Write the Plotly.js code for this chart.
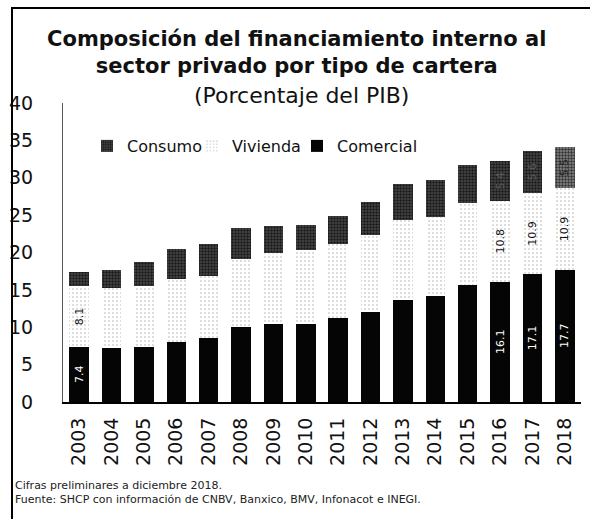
<!DOCTYPE html>
<html>
<head>
<meta charset="utf-8">
<script src="https://cdn.plot.ly/plotly-3.0.1.min.js"></script>
<style>
html,body{margin:0;padding:0;background:#fff;}
#chart{width:590px;height:519px;}
</style>
</head>
<body>
<div id="chart"></div>
<script>
var years = ['2003','2004','2005','2006','2007','2008','2009','2010','2011','2012','2013','2014','2015','2016','2017','2018'];
var comercial = [7.4, 7.2, 7.4, 8.0, 8.5, 10.0, 10.4, 10.5, 11.3, 12.0, 13.7, 14.2, 15.6, 16.1, 17.1, 17.7];
var vivienda  = [8.1, 8.0, 8.1, 8.5, 8.4, 9.1, 9.5, 9.8, 9.9, 10.3, 10.7, 10.6, 11.0, 10.8, 10.9, 10.9];
var consumo   = [1.9, 2.4, 3.2, 4.0, 4.3, 4.2, 3.6, 3.4, 3.7, 4.4, 4.7, 4.9, 5.1, 5.4, 5.6, 5.5];
var labelsComercial = ['7.4','','','','','','','','','','','','','16.1','17.1','17.7'];
var labelsVivienda  = ['8.1','','','','','','','','','','','','','10.8','10.9','10.9'];
var labelsConsumo   = ['','','','','','','','','','','','','','5.4','5.6','5.5'];

var W = 590, H = 519;
var L = 63, R = 9, T = 103, B = 117;
var pw = W - L - R, ph = H - T - B;
function px2x(p){ return (p - L) / pw; }
function py2y(p){ return (H - B - p) / ph; }

var font = 'DejaVu Sans, Noto Sans, sans-serif';

var consumoBg = years.map(function(y){ return y === '2018' ? '#8a8a8a' : '#4a4a4a'; });
var consumoFg = years.map(function(y){ return y === '2018' ? '#333' : '#1a1a1a'; });
var consumoTxt = years.map(function(y){ return y === '2018' ? '#222' : '#5a5a5a'; });

var traces = [
  {
    type: 'bar', name: 'Comercial', x: years, y: comercial, legend: 'legend3',
    marker: {color: '#050505', line: {width: 0}},
    text: labelsComercial, textposition: 'inside', insidetextanchor: 'middle',
    textangle: -90, textfont: {color: '#ffffff', size: 11, family: font},
    hoverinfo: 'x+y'
  },
  {
    type: 'bar', name: 'Vivienda', x: years, y: vivienda, legend: 'legend2',
    marker: {color: '#ffffff', line: {width: 0},
      pattern: {shape: '.', fgcolor: '#d2d2d2', bgcolor: '#ffffff', size: 4, solidity: 0.2}},
    text: labelsVivienda, textposition: 'inside', insidetextanchor: 'middle',
    textangle: -90, textfont: {color: '#111111', size: 11, family: font},
    hoverinfo: 'x+y'
  },
  {
    type: 'bar', name: 'Consumo', x: years, y: consumo, legend: 'legend',
    marker: {color: '#4a4a4a', line: {width: 0},
      pattern: {shape: '.', fgcolor: consumoFg, bgcolor: consumoBg, size: 3, solidity: 0.5}},
    text: labelsConsumo, textposition: 'inside', insidetextanchor: 'middle',
    textangle: -90, textfont: {color: consumoTxt, size: 11, family: font},
    hoverinfo: 'x+y'
  }
];

function legendAt(px){
  return {
    orientation: 'h', x: px2x(px), xanchor: 'left', y: py2y(146), yanchor: 'middle',
    font: {family: font, size: 16, color: '#111'}, bgcolor: 'rgba(0,0,0,0)', borderwidth: 0
  };
}

var layout = {
  width: W, height: H,
  margin: {l: L, r: R, t: T, b: B, pad: 0},
  paper_bgcolor: '#ffffff', plot_bgcolor: '#ffffff',
  font: {family: font, color: '#111'},
  barmode: 'stack',
  bargap: 0.4,
  showlegend: true,
  title: {
    text: '<b>Composición del financiamiento interno al</b><br><b>sector privado por tipo de cartera</b>',
    font: {family: font, size: 21, color: '#111'},
    x: 0.503, xref: 'container', xanchor: 'center',
    y: 1 - 46 / H, yref: 'container', yanchor: 'top'
  },
  legend: legendAt(87),
  legend2: legendAt(192),
  legend3: legendAt(297),
  xaxis: {
    type: 'category', tickangle: -90, showline: true, linecolor: '#000', linewidth: 2,
    ticks: '', showgrid: false, zeroline: false,
    tickfont: {family: font, size: 19, color: '#111'}, ticklabelstandoff: 6
  },
  yaxis: {
    range: [0, 40], dtick: 5, tick0: 0, showline: true, linecolor: '#555', linewidth: 1,
    ticks: '', showgrid: false, zeroline: false,
    tickfont: {family: font, size: 19, color: '#111'}, ticklabelstandoff: 25
  },
  annotations: [
    {text: '(Porcentaje del PIB)', xref: 'paper', yref: 'paper', x: px2x(301), y: py2y(95),
     xanchor: 'center', yanchor: 'middle', showarrow: false,
     font: {family: font, size: 22, color: '#111'}},
    {text: 'Cifras preliminares a diciembre 2018.', xref: 'paper', yref: 'paper', x: px2x(13), y: py2y(485),
     xanchor: 'left', yanchor: 'middle', showarrow: false,
     font: {family: font, size: 11, color: '#222'}},
    {text: 'Fuente: SHCP con información de CNBV, Banxico, BMV, Infonacot e INEGI.', xref: 'paper', yref: 'paper', x: px2x(13), y: py2y(499),
     xanchor: 'left', yanchor: 'middle', showarrow: false,
     font: {family: font, size: 11, color: '#222'}}
  ],
  shapes: [
    {type: 'rect', xref: 'paper', yref: 'paper', layer: 'above',
     x0: px2x(12), x1: px2x(700), y0: py2y(600), y1: py2y(8),
     line: {color: '#000000', width: 2}, fillcolor: 'rgba(0,0,0,0)'}
  ]
};

Plotly.newPlot('chart', traces, layout, {displayModeBar: false, staticPlot: true});
</script>
</body>
</html>
